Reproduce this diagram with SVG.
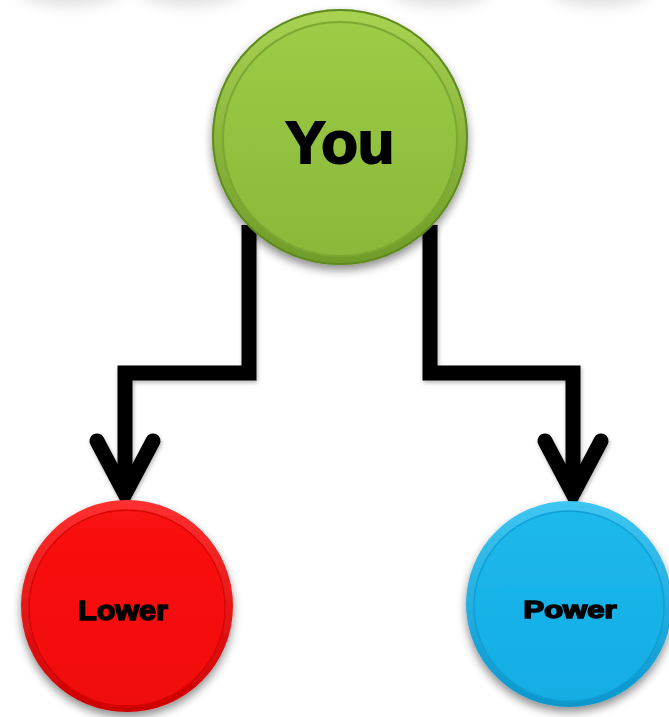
<svg xmlns="http://www.w3.org/2000/svg" width="669" height="717" viewBox="0 0 669 717">
  <style>
    .label { font-family: "Liberation Sans", Arial, sans-serif; font-weight: bold; fill: #000; stroke: #000; text-anchor: middle; }
    .conn { fill: none; stroke: #000; stroke-width: 15; stroke-linejoin: miter; }
    .head { fill: none; stroke: #000; stroke-width: 15; stroke-linecap: round; stroke-linejoin: miter; }
  </style>
  <defs>
    <filter id="shadow" x="-20%" y="-20%" width="140%" height="150%">
      <feGaussianBlur in="SourceAlpha" stdDeviation="5"/>
      <feOffset dx="0" dy="5" result="b"/>
      <feComponentTransfer><feFuncA type="linear" slope="0.45"/></feComponentTransfer>
      <feMerge><feMergeNode/><feMergeNode in="SourceGraphic"/></feMerge>
    </filter>
    <filter id="lshadow" x="-20%" y="-20%" width="140%" height="140%">
      <feGaussianBlur in="SourceAlpha" stdDeviation="2"/>
      <feOffset dx="1" dy="2"/>
      <feComponentTransfer><feFuncA type="linear" slope="0.3"/></feComponentTransfer>
      <feMerge><feMergeNode/><feMergeNode in="SourceGraphic"/></feMerge>
    </filter>
    <filter id="blur" x="-50%" y="-100%" width="200%" height="300%"><feGaussianBlur stdDeviation="7"/></filter>
    <linearGradient id="gRim" x1="0" y1="0" x2="0" y2="1">
      <stop offset="0" stop-color="#a9d352"/>
      <stop offset="1" stop-color="#6f9b28"/>
    </linearGradient>
    <linearGradient id="gIn" x1="0" y1="0" x2="0" y2="1">
      <stop offset="0" stop-color="#9ccb46"/>
      <stop offset="1" stop-color="#8ab93a"/>
    </linearGradient>
    <linearGradient id="rRim" x1="0" y1="0" x2="0" y2="1">
      <stop offset="0" stop-color="#ff3030"/>
      <stop offset="1" stop-color="#cc0000"/>
    </linearGradient>
    <linearGradient id="rIn" x1="0" y1="0" x2="0" y2="1">
      <stop offset="0" stop-color="#fb1212"/>
      <stop offset="1" stop-color="#f00a0a"/>
    </linearGradient>
    <linearGradient id="bRim" x1="0" y1="0" x2="0" y2="1">
      <stop offset="0" stop-color="#3fc6f2"/>
      <stop offset="1" stop-color="#0a96cc"/>
    </linearGradient>
    <linearGradient id="bIn" x1="0" y1="0" x2="0" y2="1">
      <stop offset="0" stop-color="#1db8ec"/>
      <stop offset="1" stop-color="#14ade3"/>
    </linearGradient>
  </defs>
  <rect width="669" height="717" fill="#ffffff"/>
  <g id="top-shadows" filter="url(#blur)" opacity="0.22">
    <ellipse cx="70" cy="-8" rx="50" ry="14" fill="#777"/>
    <ellipse cx="190" cy="-8" rx="50" ry="14" fill="#777"/>
    <ellipse cx="440" cy="-8" rx="50" ry="14" fill="#777"/>
    <ellipse cx="600" cy="-8" rx="50" ry="14" fill="#777"/>
  </g>
  <g id="connectors" filter="url(#lshadow)">
    <path class="conn" d="M249 225 V373 H125 V490"/>
    <polyline class="head" points="97,441 125,494 153,441"/>
    <path class="conn" d="M430 225 V373 H573 V490"/>
    <polyline class="head" points="545,441 573,494 601,441"/>
  </g>
  <g id="node-you" filter="url(#shadow)">
    <circle cx="340" cy="137" r="128" fill="url(#gRim)"/>
    <circle cx="340" cy="137" r="127" fill="none" stroke="#5f8a22" stroke-width="2"/>
    <circle cx="340" cy="139" r="117" fill="url(#gIn)" stroke="#7ca833" stroke-width="2"/>
    <text class="label" x="340" y="163" font-size="60" stroke-width="2">You</text>
  </g>
  <g id="node-lower" filter="url(#shadow)">
    <circle cx="127" cy="606" r="106" fill="url(#rRim)"/>
    <circle cx="127" cy="608" r="98" fill="url(#rIn)" stroke="#d80606" stroke-width="1.5"/>
    <text class="label" x="123" y="620" font-size="27" stroke-width="1.6" textLength="90" lengthAdjust="spacingAndGlyphs">Lower</text>
  </g>
  <g id="node-power" filter="url(#shadow)">
    <circle cx="569" cy="604" r="103" fill="url(#bRim)"/>
    <circle cx="569" cy="606" r="95" fill="url(#bIn)" stroke="#0e9fd6" stroke-width="1.5"/>
    <text class="label" x="570" y="618" font-size="24" stroke-width="1.6" textLength="93" lengthAdjust="spacingAndGlyphs">Power</text>
  </g>
</svg>
